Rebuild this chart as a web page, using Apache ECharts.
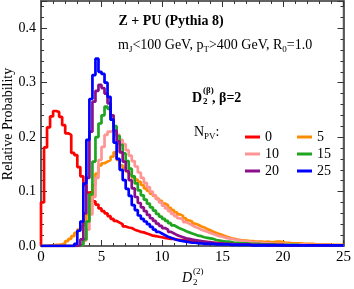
<!DOCTYPE html>
<html><head><meta charset="utf-8">
<script src="https://cdn.jsdelivr.net/npm/echarts@6/dist/echarts.min.js"></script>
<style>html,body{margin:0;padding:0;background:#fff}#c{width:354px;height:289px}</style>
</head><body><div id="c"></div>
<script>
// bin width of the histograms (x units)
const binWidth = 0.25;
const npvLabels = ['0', '5', '10', '15', '20', '25'];
const xTicks = [0, 5, 10, 15, 20, 25];
const yTicks = [0.0, 0.1, 0.2, 0.3, 0.4];

// N_PV = 0 (red)
const npv0 = [0.080,0.181,0.218,0.238,0.248,0.246,0.237,0.222,0.207,0.204,
0.171,0.167,0.145,0.128,0.112,0.098,0.099,0.082,0.076,0.069,
0.064,0.060,0.055,0.050,0.046,0.043,0.040,0.036,0.034,0.033,
0.030,0.028,0.026,0.025,0.023,0.021,0.019,0.018,0.017,0.016,
0.015,0.014,0.013,0.013,0.012,0.011,0.011,0.010,0.009,0.009,
0.008,0.008,0.007,0.007,0.007,0.006,0.006,0.006,0.005,0.005,
0.005,0.005,0.004,0.004,0.004,0.004,0.004,0.003,0.003,0.003,
0.003,0.003,0.003,0.003,0.002,0.002,0.002,0.002,0.002,0.002,
0.002,0.002,0.002,0.001,0.001,0.001,0.001,0.001,0.001,0.001,
0.001,0.001,0.001,0.001,0.001,0.001,0.001,0.001,0.001,0.001];
// N_PV = 5 (orange)
const npv5 = [0.000,0.000,0.001,0.001,0.002,0.002,0.003,0.005,0.009,0.013,
0.018,0.024,0.030,0.036,0.044,0.058,0.088,0.112,0.133,0.148,
0.152,0.155,0.158,0.164,0.172,0.158,0.148,0.143,0.137,0.132,
0.126,0.122,0.118,0.112,0.106,0.101,0.096,0.092,0.087,0.083,
0.078,0.075,0.070,0.066,0.062,0.058,0.055,0.051,0.047,0.045,
0.041,0.039,0.036,0.034,0.031,0.029,0.026,0.024,0.022,0.020,
0.018,0.016,0.014,0.013,0.012,0.011,0.010,0.010,0.009,0.009,
0.008,0.008,0.008,0.007,0.008,0.007,0.007,0.008,0.008,0.007,
0.006,0.006,0.005,0.005,0.005,0.005,0.004,0.004,0.004,0.004,
0.003,0.003,0.003,0.003,0.003,0.002,0.002,0.002,0.002,0.002];
// N_PV = 10 (pink)
const npv10 = [0,0,0,0,0,0,0,0,0,0,
0,0,0.001,0.003,0.010,0.030,0.058,0.090,0.125,0.158,
0.182,0.204,0.210,0.211,0.209,0.204,0.195,0.187,0.176,0.166,
0.156,0.146,0.135,0.125,0.116,0.108,0.100,0.093,0.086,0.080,
0.074,0.069,0.064,0.059,0.055,0.051,0.048,0.044,0.041,0.038,
0.035,0.033,0.030,0.028,0.026,0.024,0.022,0.020,0.018,0.017,
0.015,0.014,0.013,0.012,0.011,0.010,0.009,0.008,0.008,0.007,
0.007,0.006,0.006,0.005,0.005,0.005,0.004,0.004,0.004,0.004,
0.004,0.003,0.003,0.003,0.003,0.003,0.003,0.002,0.002,0.002,
0.002,0.002,0.002,0.002,0.002,0.001,0.001,0.001,0.001,0.001];
// N_PV = 15 (green)
const npv15 = [0,0,0,0,0,0,0,0,0,0,
0,0,0,0.003,0.012,0.045,0.095,0.155,0.200,0.225,
0.240,0.256,0.252,0.232,0.220,0.202,0.186,0.170,0.156,0.142,
0.128,0.115,0.102,0.093,0.085,0.078,0.071,0.065,0.059,0.054,
0.050,0.046,0.042,0.038,0.035,0.032,0.030,0.027,0.025,0.023,
0.021,0.019,0.018,0.016,0.015,0.014,0.013,0.011,0.010,0.009,
0.008,0.008,0.007,0.006,0.006,0.005,0.005,0.005,0.004,0.004,
0.004,0.004,0.003,0.003,0.003,0.003,0.003,0.002,0.002,0.002,
0.002,0.002,0.002,0.002,0.002,0.001,0.001,0.001,0.001,0.001,
0.001,0.001,0.001,0.001,0.001,0.001,0.001,0.001,0.001,0.001];
// N_PV = 20 (purple)
const npv20 = [0,0,0,0,0,0,0,0,0,0,
0,0,0.002,0.012,0.060,0.125,0.210,0.265,0.285,0.296,
0.290,0.280,0.262,0.240,0.212,0.192,0.172,0.155,0.138,0.121,
0.106,0.090,0.079,0.071,0.064,0.057,0.051,0.046,0.041,0.037,
0.033,0.030,0.026,0.023,0.020,0.018,0.016,0.014,0.013,0.012,
0.011,0.010,0.009,0.008,0.007,0.007,0.006,0.005,0.005,0.005,
0.004,0.004,0.004,0.003,0.003,0.003,0.003,0.003,0.003,0.002,
0.002,0.002,0.002,0.002,0.002,0.002,0.002,0.002,0.002,0.002,
0.001,0.001,0.001,0.001,0.001,0.001,0.001,0.001,0.001,0.001,
0.001,0.001,0.001,0.001,0.001,0.001,0.001,0.001,0.001,0.001];
// N_PV = 25 (blue)
const npv25 = [0,0,0,0,0,0,0,0,0,0,
0,0.004,0.028,0.045,0.115,0.195,0.270,0.314,0.344,0.320,
0.316,0.300,0.274,0.232,0.190,0.160,0.140,0.121,0.105,0.092,
0.075,0.066,0.056,0.050,0.045,0.040,0.035,0.030,0.026,0.023,
0.020,0.017,0.015,0.013,0.011,0.010,0.009,0.008,0.007,0.006,
0.006,0.005,0.005,0.004,0.004,0.004,0.004,0.003,0.003,0.003,
0.003,0.003,0.002,0.002,0.002,0.002,0.002,0.002,0.002,0.001,
0.001,0.001,0.001,0.001,0.001,0.001,0.001,0.001,0.001,0.001,
0.001,0.001,0.001,0.001,0.001,0.001,0.001,0.001,0.001,0.001,
0.001,0.001,0.001,0.001,0.001,0.001,0.001,0.001,0.001,0.001];

const allSeries = [npv0, npv5, npv10, npv15, npv20, npv25];
const colors = ['#ff0000', '#ff8c00', '#ff9494', '#1fa51f', '#8a0f8a', '#0000ff'];

function toSteps(vals) {
  const pts = [[0, 0]];
  vals.forEach((v, i) => pts.push([i * binWidth, v]));
  pts.push([vals.length * binWidth, vals[vals.length - 1]]);
  return pts;
}

const FONT = '"Liberation Serif", "Times New Roman", serif';
const frameColor = '#5a5a5a';
const tickColor = '#333';

function xAx(pos, labels) {
  return {
    type: 'value', min: 0, max: 25, interval: 5, position: pos,
    axisLine: { show: true, onZero: false, lineStyle: { color: frameColor, width: 1.5 } },
    axisTick: { show: true, inside: true, length: 6, lineStyle: { color: tickColor, width: 1 } },
    minorTick: { show: true, splitNumber: 5, length: 3, lineStyle: { color: tickColor, width: 1 } },
    splitLine: { show: false }, minorSplitLine: { show: false },
    axisLabel: { show: labels, margin: 4, fontFamily: FONT, fontSize: 15, color: '#000',
      formatter: v => xTicks.includes(v) ? String(v) : '' }
  };
}
function yAx(pos, interval, len, labels) {
  return {
    type: 'value', min: 0, max: 0.45, interval: interval, position: pos,
    axisLine: { show: true, onZero: false, lineStyle: { color: frameColor, width: 1.5 } },
    axisTick: { show: true, inside: true, length: len, lineStyle: { color: tickColor, width: 1 } },
    splitLine: { show: false },
    axisLabel: { show: labels, margin: 5, fontFamily: FONT, fontSize: 14, color: '#000',
      formatter: v => { const t = yTicks.find(k => Math.abs(k - v) < 1e-9); return t === undefined ? '' : t.toFixed(1); } }
  };
}

const chart = echarts.init(document.getElementById('c'), null, { renderer: 'canvas' });
const option = {
  animation: false,
  backgroundColor: '#fff',
  grid: { left: 41, right: 8, top: 1, bottom: 43, show: true, borderColor: frameColor, borderWidth: 1.5 },
  xAxis: [xAx('bottom', true), xAx('top', false)],
  yAxis: [yAx('left', 0.1, 6, true), yAx('left', 0.02, 3, false), yAx('right', 0.1, 6, false), yAx('right', 0.02, 3, false)],
  legend: [
    { data: ['0', '10', '20'], orient: 'vertical', left: 240, top: 125, itemWidth: 15, itemHeight: 3, itemGap: 3, icon: 'rect',
      textStyle: { fontFamily: FONT, fontSize: 14, color: '#000', lineHeight: 14 }, selectedMode: false },
    { data: ['5', '15', '25'], orient: 'vertical', left: 292, top: 125, itemWidth: 15, itemHeight: 3, itemGap: 3, icon: 'rect',
      textStyle: { fontFamily: FONT, fontSize: 14, color: '#000', lineHeight: 14 }, selectedMode: false }
  ],
  series: allSeries.map((vals, k) => ({
    name: npvLabels[k], type: 'line', step: 'end', xAxisIndex: 0, yAxisIndex: 0,
    data: toSteps(vals), showSymbol: false, symbol: 'none',
    lineStyle: { color: colors[k], width: 2.7 }, itemStyle: { color: colors[k] },
    z: 2 + k
  })),
  graphic: [
    { type: 'text', x: 8, y: 124, rotation: Math.PI / 2,
      style: { text: 'Relative Probability', font: '14px ' + FONT, fill: '#000', textAlign: 'center', textVerticalAlign: 'middle' } },
    { type: 'text', x: 171, y: 21,
      style: { text: 'Z + PU (Pythia 8)', font: 'bold 14px ' + FONT, fill: '#000', textAlign: 'center', textVerticalAlign: 'middle' } },
    { type: 'text', x: 118, y: 45,
      style: { text: 'm{s|J}<100 GeV, p{s|T}>400 GeV, R{s|0}=1.0', font: '14px ' + FONT, fill: '#000', textVerticalAlign: 'middle',
        lineHeight: 18, rich: { s: { fontSize: 9, fontFamily: FONT, verticalAlign: 'bottom', lineHeight: 12 } } } },
    // D2^(beta), beta=2
    { type: 'text', x: 192, y: 98, style: { text: 'D', font: 'bold 14px ' + FONT, fill: '#000', textVerticalAlign: 'middle' } },
    { type: 'text', x: 203, y: 91, style: { text: '(β)', font: 'bold 9px ' + FONT, fill: '#000', textVerticalAlign: 'middle' } },
    { type: 'text', x: 203, y: 102, style: { text: '2', font: 'bold 9px ' + FONT, fill: '#000', textVerticalAlign: 'middle' } },
    { type: 'text', x: 212, y: 98, style: { text: ', β=2', font: 'bold 14px ' + FONT, fill: '#000', textVerticalAlign: 'middle' } },
    // N_PV:
    { type: 'text', x: 194, y: 132,
      style: { text: 'N{s|PV}:', font: '14px ' + FONT, fill: '#000', textVerticalAlign: 'middle',
        lineHeight: 18, rich: { s: { fontSize: 9, fontFamily: FONT, verticalAlign: 'bottom', lineHeight: 12 } } } },
    // x axis title D_2^(2)
    { type: 'text', x: 182, y: 278, style: { text: 'D', font: 'italic 14px ' + FONT, fill: '#000', textVerticalAlign: 'middle' } },
    { type: 'text', x: 193, y: 272, style: { text: '(2)', font: '9px ' + FONT, fill: '#000', textVerticalAlign: 'middle' } },
    { type: 'text', x: 193, y: 283, style: { text: '2', font: '9px ' + FONT, fill: '#000', textVerticalAlign: 'middle' } }
  ]
};
chart.setOption(option);
</script>
</body></html>
